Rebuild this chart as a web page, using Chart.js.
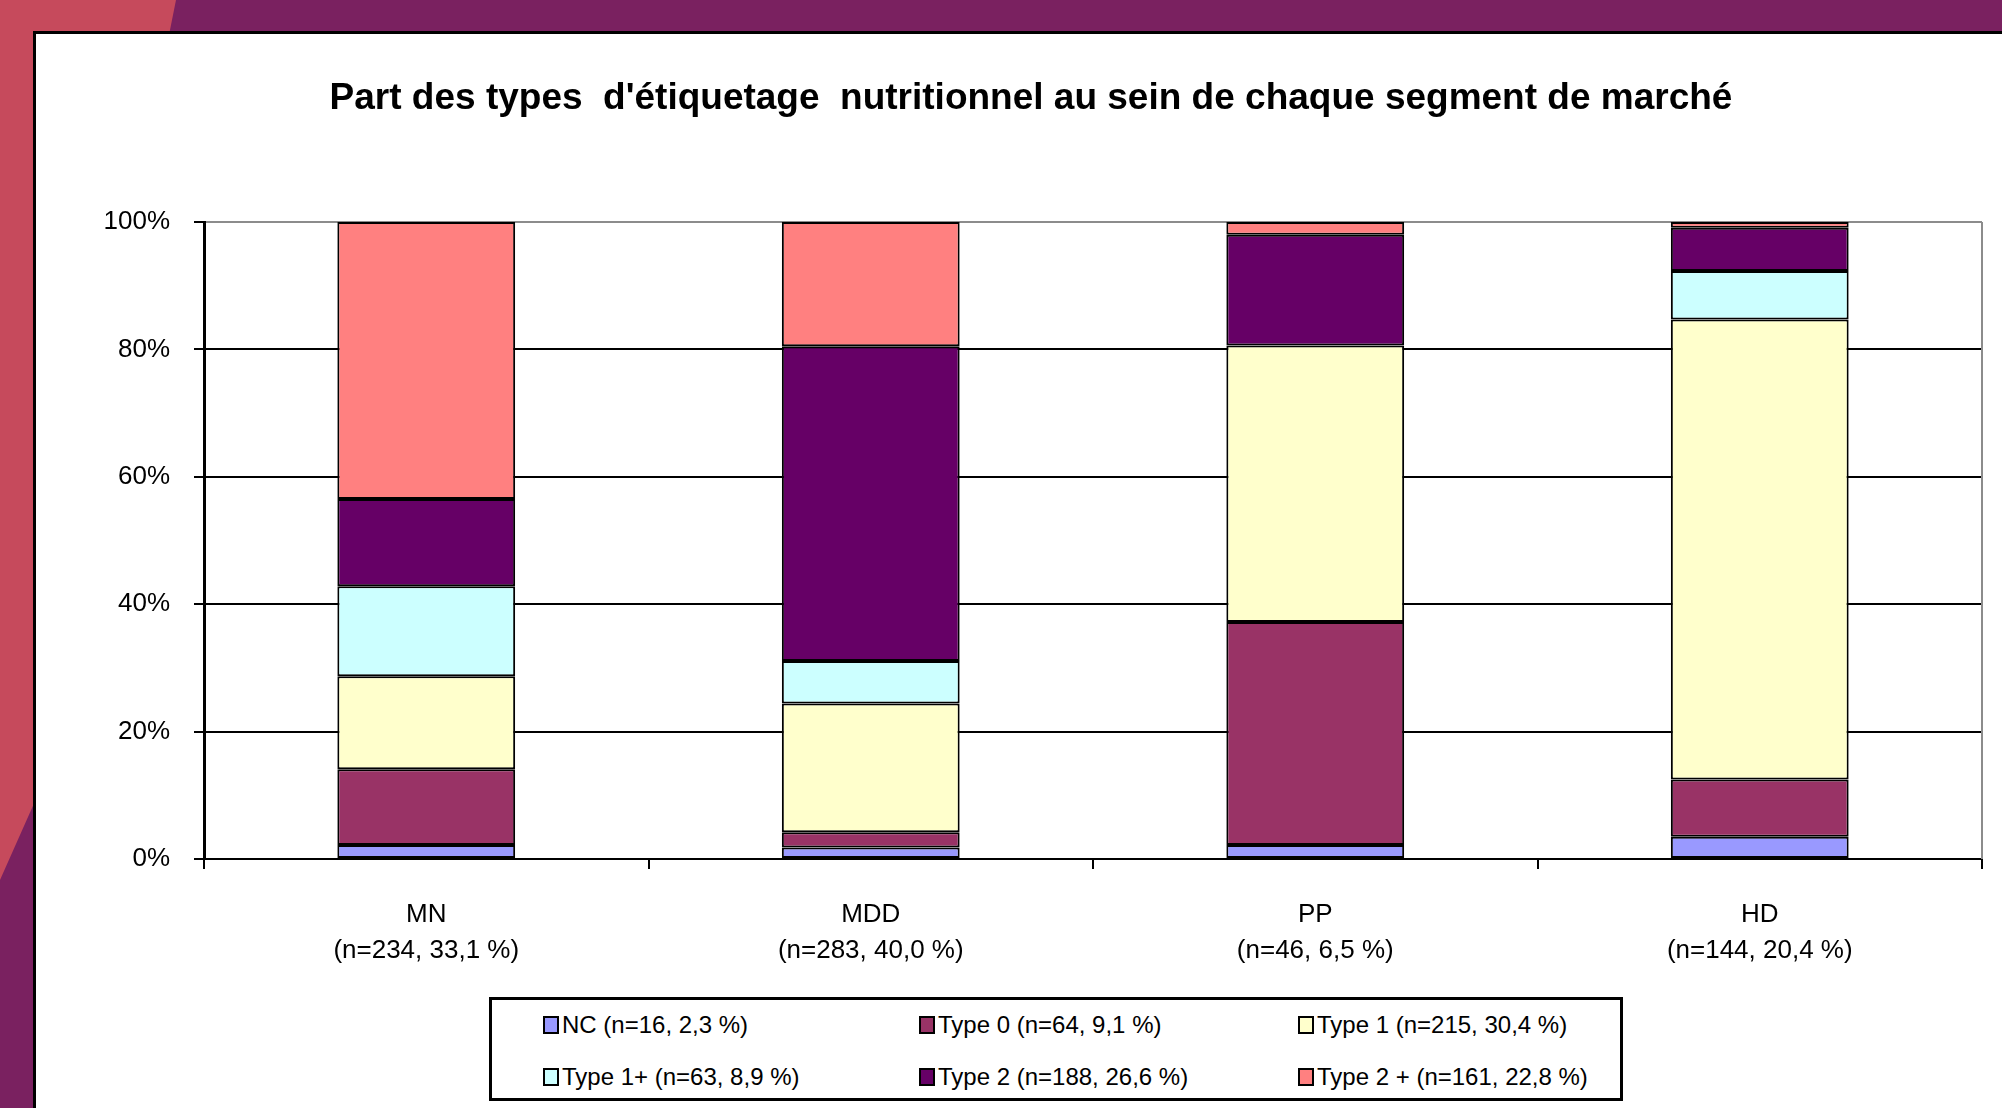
<!DOCTYPE html>
<html lang="fr">
<head>
<meta charset="utf-8">
<title>Part des types d'étiquetage nutritionnel</title>
<script src="https://cdn.jsdelivr.net/npm/chart.js@4.4.1/dist/chart.umd.min.js"></script>
<style>
  html, body { margin: 0; padding: 0; }
  body { width: 2002px; height: 1108px; overflow: hidden; position: relative; background: #7a2160; font-family: "Liberation Sans", Arial, sans-serif; }
  #fond-rouge { position: absolute; left: 0; top: 0; width: 200px; height: 900px; background: #c64a5c;
    clip-path: polygon(0 0, 176px 0, 168px 40px, 40px 40px, 40px 790px, 0 880px); }
  #panneau { position: absolute; left: 33px; top: 31px; right: -10px; bottom: -10px; background: #fff;
    border-left: 3px solid #000; border-top: 3px solid #000; }
  #graphique { position: absolute; left: 0; top: 0; }
  #legende { position: absolute; left: 489px; top: 997px; width: 1134px; height: 104px; box-sizing: border-box;
    border: 3px solid #000; background: #fff;
    display: grid; grid-template-columns: 376px 379px auto; grid-template-rows: 50px 53px; padding-left: 51px; }
  #legende .item { display: flex; align-items: center; font-size: 24px; color: #000; white-space: nowrap; }
  #legende .boite { width: 12px; height: 14px; border: 2px solid #000; margin-right: 3px; }
</style>
</head>
<body>
<div id="fond-rouge"></div>
<div id="panneau"></div>
<canvas id="graphique" width="2002" height="1108"></canvas>
<div id="legende"></div>
<script>
// segments de marché (axe x)
const segments = ['MN', 'MDD', 'PP', 'HD'];
const effectifsSegments = ['(n=234, 33,1 %)', '(n=283, 40,0 %)', '(n=46, 6,5 %)', '(n=144, 20,4 %)'];

// types d'étiquetage (séries)
const typesEtiquetage = [
    'NC (n=16, 2,3 %)',
    'Type 0 (n=64, 9,1 %)',
    'Type 1 (n=215, 30,4 %)',
    'Type 1+ (n=63, 8,9 %)',
    'Type 2 (n=188, 26,6 %)',
    'Type 2 + (n=161, 22,8 %)'
];
const couleurs = ['#9999ff', '#993366', '#ffffcc', '#ccffff', '#660066', '#ff8080'];

// parts en %, par segment MN, MDD, PP, HD
const partNC = [2.2, 1.8, 2.2, 3.5];
const partType0 = [11.9, 2.4, 35.0, 9.0];
const partType1 = [14.6, 20.2, 43.4, 72.2];
const partType1Plus = [14.1, 6.7, 0, 7.6];
const partType2 = [13.7, 49.4, 17.4, 6.8];
const partType2Plus = [43.5, 19.5, 2.0, 0.9];

const graduations = [0, 20, 40, 60, 80, 100];

const series = [partNC, partType0, partType1, partType1Plus, partType2, partType2Plus];

Chart.defaults.font.family = "'Liberation Sans', Arial, sans-serif";
Chart.defaults.color = '#000';

// cadre gris à droite de la zone de tracé
const cadreDroit = {
    id: 'cadreDroit',
    beforeDatasetsDraw(chart) {
        const { ctx, chartArea } = chart;
        ctx.save();
        ctx.strokeStyle = '#8c8c8c';
        ctx.lineWidth = 2;
        ctx.beginPath();
        ctx.moveTo(chartArea.right, chartArea.top);
        ctx.lineTo(chartArea.right, chartArea.bottom);
        ctx.stroke();
        ctx.restore();
    }
};

const ctx = document.getElementById('graphique').getContext('2d');
const graphique = new Chart(ctx, {
    type: 'bar',
    data: {
        labels: segments.map((s, i) => [s, effectifsSegments[i]]),
        datasets: series.map((valeurs, i) => ({
            label: typesEtiquetage[i],
            data: valeurs,
            backgroundColor: couleurs[i],
            borderColor: '#000',
            borderWidth: 2,
            borderSkipped: false,
            barPercentage: 0.4,
            categoryPercentage: 1.0
        }))
    },
    options: {
        responsive: false,
        devicePixelRatio: 1,
        animation: false,
        layout: { padding: { left: 80, right: 20, top: 0, bottom: 0 } },
        scales: {
            x: {
                stacked: true,
                grid: { offset: true, drawOnChartArea: false, drawTicks: true, tickLength: 10, color: '#000', lineWidth: 2 },
                border: { color: '#000', width: 2 },
                ticks: { font: { size: 26, lineHeight: 1.38 }, padding: 28, maxRotation: 0, autoSkip: false },
                afterFit: scale => { scale.height = 249; }
            },
            y: {
                stacked: true,
                min: 0,
                max: 100,
                afterBuildTicks: scale => { scale.ticks = graduations.map(v => ({ value: v })); },
                ticks: { callback: v => v + '%', font: { size: 26 }, padding: 24 },
                grid: {
                    color: c => (c.tick && c.tick.value === 100) ? '#8c8c8c' : '#000',
                    tickColor: '#000',
                    lineWidth: 2,
                    tickLength: 10
                },
                border: { color: '#000', width: 3 },
                afterFit: scale => { scale.width = 124; }
            }
        },
        plugins: {
            title: {
                display: true,
                text: "Part des types  d'étiquetage  nutritionnel au sein de chaque segment de marché",
                font: { size: 37, weight: 'bold' },
                color: '#000',
                padding: { top: 77, bottom: 100.6 }
            },
            legend: { display: false },
            tooltip: { enabled: false }
        }
    },
    plugins: [cadreDroit]
});

// légende en HTML (deux lignes de trois)
const legende = document.getElementById('legende');
graphique.data.datasets.forEach(ds => {
    const item = document.createElement('div');
    item.className = 'item';
    const boite = document.createElement('span');
    boite.className = 'boite';
    boite.style.background = ds.backgroundColor;
    item.appendChild(boite);
    item.appendChild(document.createTextNode(ds.label));
    legende.appendChild(item);
});
</script>
</body>
</html>
